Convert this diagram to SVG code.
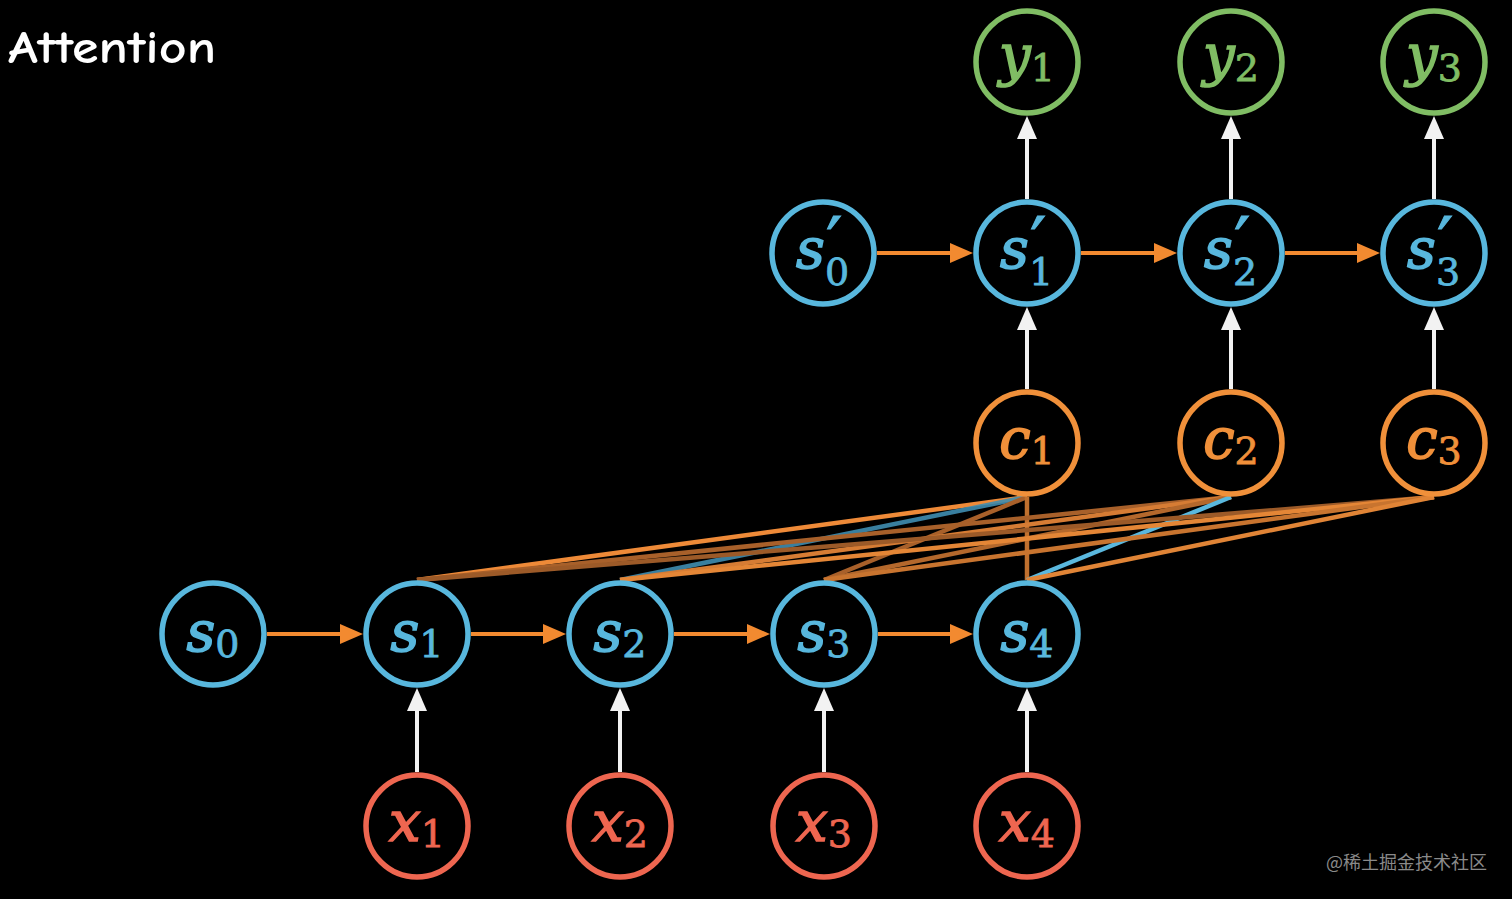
<svg xmlns="http://www.w3.org/2000/svg" width="1512" height="899" viewBox="0 0 1512 899">
<defs>
<marker id="ao" markerUnits="userSpaceOnUse" markerWidth="24" markerHeight="22" refX="0" refY="10" orient="auto"><path d="M0,0 L23,10 L0,20 z" fill="#f28a30"/></marker>
<marker id="aw" markerUnits="userSpaceOnUse" markerWidth="24" markerHeight="22" refX="0" refY="10" orient="auto"><path d="M0,0 L23,10 L0,20 z" fill="#f2f2f2"/></marker>
<style>
.n{fill:none;stroke-width:5.5}
.b{stroke:#58b7dd}.bt{fill:#58b7dd;stroke:#58b7dd}
.o{stroke:#f0903a}.ot{fill:#f0903a;stroke:#f0903a}
.r{stroke:#ee6650}.rt{fill:#ee6650;stroke:#ee6650}
.g{stroke:#80bd64}.gt{fill:#80bd64;stroke:#80bd64}
.m{font-family:"DejaVu Serif","Liberation Serif",serif;font-style:italic;font-size:56px;stroke-width:1.6}
.sb{font-size:38px;font-style:normal;stroke-width:0.8}
.pr{font-family:"DejaVu Sans",sans-serif;font-size:72px;font-style:normal;stroke-width:1}
.ha{stroke:#f28a30;stroke-width:4;marker-end:url(#ao)}
.va{stroke:#f2f2f2;stroke-width:4;marker-end:url(#aw)}
.al{stroke-width:4.5;fill:none}
</style>
</defs>
<rect width="1512" height="899" fill="#000"/>
<text x="8" y="63" font-family="'Comic Neue','Comic Sans MS','Open Sans',sans-serif" font-size="46" font-weight="bold" fill="#fff" textLength="208" lengthAdjust="spacingAndGlyphs">Attention</text>
<text x="1326" y="869" font-family="'Noto Sans CJK SC',sans-serif" font-size="18" fill="#8a8a8a">@稀土掘金技术社区</text>

<g id="connectors">
<g id="attention-lines">
<line class="al" x1="1027" y1="497" x2="417" y2="580" stroke="#ee8a38"/>
<line class="al" x1="1027" y1="497" x2="620" y2="580" stroke="#3f8db0" opacity="0.9"/>
<line class="al" x1="1027" y1="497" x2="824" y2="580" stroke="#a8602a"/>
<line class="al" x1="1027" y1="497" x2="1027" y2="580" stroke="#c0702e"/>
<line class="al" x1="1231" y1="497" x2="417" y2="580" stroke="#a8602a"/>
<line class="al" x1="1231" y1="497" x2="620" y2="580" stroke="#d67c34"/>
<line class="al" x1="1231" y1="497" x2="824" y2="580" stroke="#b4682c"/>
<line class="al" x1="1231" y1="497" x2="1027" y2="580" stroke="#5ab8de"/>
<line class="al" x1="1434" y1="497" x2="417" y2="580" stroke="#9c5a28"/>
<line class="al" x1="1434" y1="497" x2="620" y2="580" stroke="#e48636"/>
<line class="al" x1="1434" y1="497" x2="824" y2="580" stroke="#c8742f"/>
<line class="al" x1="1434" y1="497" x2="1027" y2="580" stroke="#e08436"/>
</g>
<line class="ha" x1="267" y1="634" x2="340" y2="634"/>
<line class="ha" x1="471" y1="634" x2="543" y2="634"/>
<line class="ha" x1="674" y1="634" x2="747" y2="634"/>
<line class="ha" x1="878" y1="634" x2="950" y2="634"/>
<line class="ha" x1="877" y1="253" x2="950" y2="253"/>
<line class="ha" x1="1081" y1="253" x2="1154" y2="253"/>
<line class="ha" x1="1285" y1="253" x2="1357" y2="253"/>
<line class="va" x1="417" y1="772" x2="417" y2="711"/>
<line class="va" x1="620" y1="772" x2="620" y2="711"/>
<line class="va" x1="824" y1="772" x2="824" y2="711"/>
<line class="va" x1="1027" y1="772" x2="1027" y2="711"/>
<line class="va" x1="1027" y1="389" x2="1027" y2="330"/>
<line class="va" x1="1231" y1="389" x2="1231" y2="330"/>
<line class="va" x1="1434" y1="389" x2="1434" y2="330"/>
<line class="va" x1="1027" y1="199" x2="1027" y2="139"/>
<line class="va" x1="1231" y1="199" x2="1231" y2="139"/>
<line class="va" x1="1434" y1="199" x2="1434" y2="139"/>
</g>

<g id="s0"><circle class="n b" cx="213" cy="634" r="51"/><text class="m bt" x="213" y="651" text-anchor="middle">s<tspan class="sb" dy="6">0</tspan></text></g>
<g id="s1"><circle class="n b" cx="417" cy="634" r="51"/><text class="m bt" x="417" y="651" text-anchor="middle">s<tspan class="sb" dy="6">1</tspan></text></g>
<g id="s2"><circle class="n b" cx="620" cy="634" r="51"/><text class="m bt" x="620" y="651" text-anchor="middle">s<tspan class="sb" dy="6">2</tspan></text></g>
<g id="s3"><circle class="n b" cx="824" cy="634" r="51"/><text class="m bt" x="824" y="651" text-anchor="middle">s<tspan class="sb" dy="6">3</tspan></text></g>
<g id="s4"><circle class="n b" cx="1027" cy="634" r="51"/><text class="m bt" x="1027" y="651" text-anchor="middle">s<tspan class="sb" dy="6">4</tspan></text></g>

<g id="x1"><circle class="n r" cx="417" cy="826" r="51"/><text class="m rt" x="417" y="841" text-anchor="middle">x<tspan class="sb" dy="6">1</tspan></text></g>
<g id="x2"><circle class="n r" cx="620" cy="826" r="51"/><text class="m rt" x="620" y="841" text-anchor="middle">x<tspan class="sb" dy="6">2</tspan></text></g>
<g id="x3"><circle class="n r" cx="824" cy="826" r="51"/><text class="m rt" x="824" y="841" text-anchor="middle">x<tspan class="sb" dy="6">3</tspan></text></g>
<g id="x4"><circle class="n r" cx="1027" cy="826" r="51"/><text class="m rt" x="1027" y="841" text-anchor="middle">x<tspan class="sb" dy="6">4</tspan></text></g>

<g id="c1"><circle class="n o" cx="1027" cy="443" r="51"/><text class="m ot" x="1027" y="458" text-anchor="middle">c<tspan class="sb" dy="6">1</tspan></text></g>
<g id="c2"><circle class="n o" cx="1231" cy="443" r="51"/><text class="m ot" x="1231" y="458" text-anchor="middle">c<tspan class="sb" dy="6">2</tspan></text></g>
<g id="c3"><circle class="n o" cx="1434" cy="443" r="51"/><text class="m ot" x="1434" y="458" text-anchor="middle">c<tspan class="sb" dy="6">3</tspan></text></g>

<g id="sp0"><circle class="n b" cx="823" cy="253" r="51"/><text class="m bt" x="796" y="268">s<tspan class="pr" x="826" y="268">′</tspan><tspan class="sb" x="825" y="285">0</tspan></text></g>
<g id="sp1"><circle class="n b" cx="1027" cy="253" r="51"/><text class="m bt" x="1000" y="268">s<tspan class="pr" x="1030" y="268">′</tspan><tspan class="sb" x="1029" y="285">1</tspan></text></g>
<g id="sp2"><circle class="n b" cx="1231" cy="253" r="51"/><text class="m bt" x="1204" y="268">s<tspan class="pr" x="1234" y="268">′</tspan><tspan class="sb" x="1233" y="285">2</tspan></text></g>
<g id="sp3"><circle class="n b" cx="1434" cy="253" r="51"/><text class="m bt" x="1407" y="268">s<tspan class="pr" x="1437" y="268">′</tspan><tspan class="sb" x="1436" y="285">3</tspan></text></g>

<g id="y1"><circle class="n g" cx="1027" cy="62" r="51"/><text class="m gt" x="1027" y="75" text-anchor="middle">y<tspan class="sb" dy="6">1</tspan></text></g>
<g id="y2"><circle class="n g" cx="1231" cy="62" r="51"/><text class="m gt" x="1231" y="75" text-anchor="middle">y<tspan class="sb" dy="6">2</tspan></text></g>
<g id="y3"><circle class="n g" cx="1434" cy="62" r="51"/><text class="m gt" x="1434" y="75" text-anchor="middle">y<tspan class="sb" dy="6">3</tspan></text></g>
</svg>
